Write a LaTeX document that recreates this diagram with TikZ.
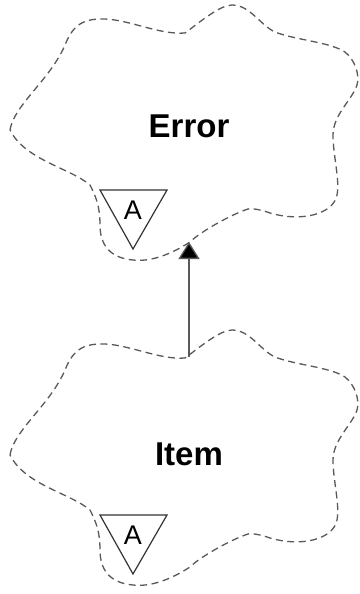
\documentclass[tikz,border=0pt]{standalone}
\usepackage{fontspec}
\setmainfont{Liberation Sans}
\usetikzlibrary{arrows.meta}
\tikzset{
  cloudline/.style={draw=black!65, line width=1.3pt, dash pattern=on 7pt off 4.5pt},
  clsname/.style={font=\fontsize{33}{33}\selectfont\bfseries, inner sep=0pt},
  abstri/.style={draw=black!80, line width=1.2pt, fill=white},
  abslabel/.style={font=\fontsize{27}{27}\selectfont, inner sep=0pt},
  inherit/.style={draw=black!65, line width=1.3pt, -{Triangle[width=21pt,length=17pt,fill=black]}}
}
\newcommand\boochcloudpath{%
  (10,130) .. controls (14,105) and (50,80) .. (65,45)
  .. controls (72,28) and (80,18) .. (105,19)
  .. controls (130,20) and (160,35) .. (185,33)
  .. controls (200,22) and (220,5) .. (232,5)
  .. controls (250,5) and (260,25) .. (275,32)
  .. controls (295,40) and (330,42) .. (345,52)
  .. controls (355,60) and (360,75) .. (357,85)
  .. controls (352,100) and (333,115) .. (333,135)
  .. controls (333,155) and (340,180) .. (337,195)
  .. controls (333,215) and (300,222) .. (270,213)
  .. controls (262,210) and (252,208) .. (248,209)
  .. controls (230,215) and (200,232) .. (190,242)
  .. controls (170,255) and (150,262) .. (133,260)
  .. controls (110,258) and (100,245) .. (100,225)
  .. controls (100,205) and (95,195) .. (90,185)
  .. controls (70,168) and (25,160) .. (10,130)}
\begin{document}
\begin{tikzpicture}[x=1pt,y=-1pt]
  \useasboundingbox (0,0) rectangle (359,594);
  % Error class
  \begin{scope}
    \path[cloudline] \boochcloudpath;
    \path[abstri] (100,190) -- (167,190) -- (133,249) -- cycle;
    \node[abslabel] (erra) at (133,210) {A};
    \node[clsname] (error) at (189,126) {Error};
    \coordinate (errbot) at (189,242);
  \end{scope}
  % Item class
  \begin{scope}[shift={(0,325)}]
    \path[cloudline] \boochcloudpath;
    \path[abstri] (100,190) -- (167,190) -- (133,249) -- cycle;
    \node[abslabel] (itema) at (133,210) {A};
    \node[clsname] (item) at (189,129) {Item};
    \coordinate (itemtop) at (189,32);
  \end{scope}
  \draw[inherit] (itemtop) -- (errbot);
\end{tikzpicture}
\end{document}
